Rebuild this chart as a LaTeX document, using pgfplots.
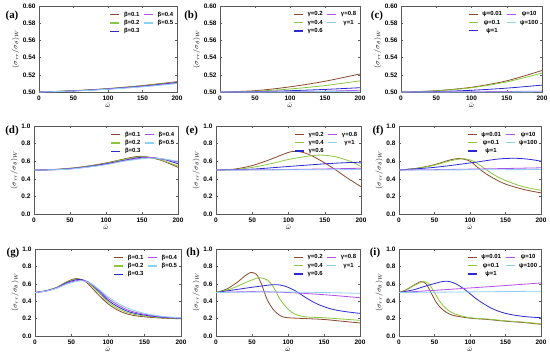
\documentclass[border=0pt]{standalone}
\usepackage{fontspec}
\setmainfont{Liberation Serif}
\setsansfont{Liberation Sans}
\usepackage{pgfplots}
\pgfplotsset{compat=1.18}
\definecolor{cA}{HTML}{8B4A2B}
\definecolor{cB}{HTML}{8CC63F}
\definecolor{cC}{HTML}{2B2BD0}
\definecolor{cD}{HTML}{B050E8}
\definecolor{cE}{HTML}{8ED0F2}
\pgfplotsset{
 pan/.style={scale only axis, anchor=south west, xmin=0, xmax=200, xtick={0,50,100,150,200},
   axis line style={gray!70!black, line width=0.5bp},
   tick style={gray!70!black, line width=0.4bp}, major tick length=2bp,
   tick align=inside,
   tick label style={font=\sffamily\bfseries\fontsize{6.5}{7}\selectfont},
   /pgf/number format/assume math mode=true,
   xlabel={$\bar{\omega}$}, ylabel={$(\sigma_{rr}/\sigma_{\theta})_W$},
   label style={font=\fontsize{7.5}{8}\selectfont},
   xlabel style={yshift=3bp}, ylabel style={yshift=-3bp},
   legend style={at={(0.995,0.97)}, anchor=north east, draw=none, fill=none,
     font=\sffamily\bfseries\fontsize{6}{7}\selectfont, row sep=-1.5bp, column sep=2bp, inner sep=1bp},
   legend columns=3, transpose legend,
   legend image code/.code={\draw[#1, line width=1.2bp] (0bp,0bp) -- (9bp,0bp);},
   every axis plot/.append style={line width=0.8bp, smooth, no marks},
   cycle list={{cA},{cB},{cC},{cD},{cE}},
 },
 top/.style={ymin=0.5,ymax=0.6, ytick={0.5,0.52,0.54,0.56,0.58,0.6},
   yticklabel style={/pgf/number format/.cd,fixed,fixed zerofill,precision=2}},
 bot/.style={ymin=0,ymax=1,ytick={0,0.2,0.4,0.6,0.8,1},
   yticklabel style={/pgf/number format/.cd,fixed,fixed zerofill,precision=1}},
}
\begin{document}
\begin{tikzpicture}
\useasboundingbox (0,0) rectangle (550bp,-359bp);
% (a)
\begin{axis}[pan, top, at={(39bp,-92bp)}, width=138bp, height=86bp]
\addplot coordinates {(0,0.5)(50,0.5015)(100,0.504)(150,0.5075)(200,0.512)};
\addplot coordinates {(0,0.5)(50,0.5014)(100,0.5038)(150,0.5072)(200,0.5115)};
\addplot coordinates {(0,0.5)(50,0.5013)(100,0.5036)(150,0.5068)(200,0.511)};
\addplot coordinates {(0,0.5)(50,0.5012)(100,0.5034)(150,0.5064)(200,0.5104)};
\addplot coordinates {(0,0.5)(50,0.5011)(100,0.5032)(150,0.506)(200,0.5098)};
\legend{β=0.1,β=0.2,β=0.3,β=0.4,β=0.5}
\end{axis}
% (b)
\begin{axis}[pan, top, at={(220bp,-92bp)}, width=140bp, height=86bp]
\addplot coordinates {(0,0.5)(50,0.5015)(100,0.506)(150,0.5125)(200,0.521)};
\addplot coordinates {(0,0.5)(50,0.501)(100,0.5035)(150,0.5075)(200,0.513)};
\addplot coordinates {(0,0.5)(50,0.5004)(100,0.5015)(150,0.503)(200,0.505)};
\addplot coordinates {(0,0.5)(50,0.5001)(100,0.5005)(150,0.501)(200,0.502)};
\addplot coordinates {(0,0.5)(50,0.5)(100,0.5002)(150,0.5005)(200,0.501)};
\legend{γ=0.2,γ=0.4,γ=0.6,γ=0.8,γ=1}
\end{axis}
% (c)
\begin{axis}[pan, top, at={(401bp,-92bp)}, width=141bp, height=86bp]
\addplot coordinates {(0,0.5)(50,0.5015)(100,0.5055)(150,0.513)(200,0.525)};
\addplot coordinates {(0,0.5)(50,0.5013)(100,0.505)(150,0.5118)(200,0.522)};
\addplot coordinates {(0,0.5)(50,0.5005)(100,0.502)(150,0.5045)(200,0.508)};
\addplot coordinates {(0,0.5)(50,0.5001)(100,0.5003)(150,0.5006)(200,0.501)};
\addplot coordinates {(0,0.5)(50,0.5)(100,0.5)(150,0.5001)(200,0.5002)};
\legend{ψ=0.01,ψ=0.1,ψ=1,ψ=10,ψ=100}
\end{axis}
% (d)
\begin{axis}[pan, bot, at={(34bp,-214bp)}, width=144bp, height=88bp]
\addplot coordinates {(0,0.5)(25,0.505)(50,0.52)(75,0.545)(100,0.58)(125,0.625)(140,0.65)(150,0.655)(165,0.635)(180,0.6)(200,0.53)};
\addplot coordinates {(0,0.5)(25,0.504)(50,0.518)(75,0.542)(100,0.575)(125,0.62)(150,0.652)(170,0.63)(185,0.59)(200,0.545)};
\addplot coordinates {(0,0.5)(25,0.503)(50,0.515)(75,0.538)(100,0.57)(125,0.61)(150,0.645)(170,0.635)(185,0.61)(200,0.57)};
\addplot coordinates {(0,0.5)(25,0.503)(50,0.513)(75,0.535)(100,0.565)(125,0.605)(155,0.64)(175,0.63)(200,0.59)};
\addplot coordinates {(0,0.5)(25,0.502)(50,0.51)(75,0.532)(100,0.56)(125,0.6)(160,0.635)(180,0.625)(200,0.6)};
\legend{β=0.1,β=0.2,β=0.3,β=0.4,β=0.5}
\end{axis}
% (e)
\begin{axis}[pan, bot, at={(216bp,-214bp)}, width=145bp, height=88bp]
\addplot coordinates {(0,0.5)(25,0.51)(50,0.55)(75,0.62)(90,0.67)(105,0.71)(120,0.7)(135,0.65)(158,0.54)(181,0.41)(200,0.31)};
\addplot coordinates {(0,0.5)(25,0.505)(50,0.53)(75,0.57)(100,0.62)(125,0.655)(145,0.67)(165,0.65)(185,0.6)(200,0.54)};
\addplot coordinates {(0,0.5)(50,0.51)(100,0.54)(150,0.57)(185,0.585)(200,0.58)};
\addplot coordinates {(0,0.5)(50,0.502)(100,0.506)(150,0.512)(200,0.52)};
\addplot coordinates {(0,0.5)(50,0.5)(100,0.502)(150,0.503)(200,0.505)};
\legend{γ=0.2,γ=0.4,γ=0.6,γ=0.8,γ=1}
\end{axis}
% (f)
\begin{axis}[pan, bot, at={(399bp,-214bp)}, width=142bp, height=88bp]
\addplot coordinates {(0,0.5)(25,0.52)(50,0.56)(70,0.61)(85,0.63)(100,0.6)(115,0.5)(130,0.42)(150,0.34)(175,0.28)(200,0.24)};
\addplot coordinates {(0,0.5)(25,0.518)(50,0.555)(70,0.6)(90,0.628)(105,0.6)(120,0.52)(135,0.44)(150,0.38)(175,0.31)(200,0.27)};
\addplot coordinates {(0,0.5)(50,0.53)(100,0.58)(140,0.625)(165,0.633)(185,0.62)(200,0.6)};
\addplot coordinates {(0,0.5)(50,0.504)(100,0.51)(150,0.517)(200,0.525)};
\addplot coordinates {(0,0.5)(50,0.501)(100,0.502)(150,0.504)(200,0.505)};
\legend{ψ=0.01,ψ=0.1,ψ=1,ψ=10,ψ=100}
\end{axis}
% (g)
\begin{axis}[pan, bot, at={(35bp,-336bp)}, width=146bp, height=87bp]
\addplot coordinates {(0,0.5)(15,0.52)(30,0.56)(45,0.63)(57,0.66)(70,0.62)(85,0.49)(100,0.37)(115,0.29)(130,0.245)(150,0.22)(175,0.205)(200,0.198)};
\addplot coordinates {(0,0.5)(15,0.52)(30,0.558)(45,0.625)(59,0.655)(72,0.62)(87,0.5)(100,0.39)(115,0.31)(130,0.26)(150,0.23)(175,0.21)(200,0.2)};
\addplot coordinates {(0,0.5)(15,0.518)(30,0.555)(45,0.618)(60,0.65)(73,0.62)(88,0.51)(100,0.41)(115,0.33)(130,0.275)(150,0.24)(175,0.215)(200,0.203)};
\addplot coordinates {(0,0.5)(15,0.517)(30,0.552)(45,0.61)(62,0.642)(74,0.615)(89,0.52)(100,0.43)(115,0.35)(130,0.29)(150,0.25)(175,0.22)(200,0.206)};
\addplot coordinates {(0,0.5)(15,0.515)(30,0.55)(45,0.6)(63,0.635)(75,0.61)(90,0.52)(100,0.45)(115,0.37)(130,0.31)(150,0.26)(175,0.225)(200,0.21)};
\legend{β=0.1,β=0.2,β=0.3,β=0.4,β=0.5}
\end{axis}
% (h)
\begin{axis}[pan, bot, at={(216bp,-336bp)}, width=144bp, height=87bp]
\addplot coordinates {(0,0.5)(15,0.54)(30,0.62)(40,0.69)(48,0.73)(56,0.71)(63,0.6)(71,0.42)(80,0.3)(90,0.23)(100,0.21)(125,0.2)(150,0.19)(175,0.17)(200,0.15)};
\addplot coordinates {(0,0.5)(20,0.54)(40,0.61)(55,0.66)(62,0.67)(72,0.64)(80,0.56)(89,0.42)(100,0.31)(110,0.25)(125,0.22)(150,0.21)(175,0.195)(200,0.18)};
\addplot coordinates {(0,0.5)(25,0.53)(50,0.56)(80,0.59)(95,0.575)(110,0.52)(125,0.44)(140,0.37)(160,0.31)(180,0.28)(200,0.26)};
\addplot coordinates {(0,0.5)(50,0.51)(100,0.5)(150,0.475)(200,0.44)};
\addplot coordinates {(0,0.5)(50,0.505)(100,0.505)(150,0.5)(200,0.49)};
\legend{γ=0.2,γ=0.4,γ=0.6,γ=0.8,γ=1}
\end{axis}
% (i)
\begin{axis}[pan, bot, at={(399bp,-336bp)}, width=142bp, height=87bp]
\addplot coordinates {(0,0.5)(10,0.53)(20,0.58)(31,0.625)(38,0.6)(45,0.5)(53,0.38)(62,0.3)(75,0.24)(100,0.205)(125,0.19)(150,0.17)(175,0.155)(200,0.135)};
\addplot coordinates {(0,0.5)(10,0.525)(20,0.575)(34,0.625)(42,0.6)(50,0.5)(58,0.39)(67,0.31)(80,0.25)(100,0.21)(125,0.195)(150,0.175)(175,0.16)(200,0.14)};
\addplot coordinates {(0,0.5)(20,0.53)(40,0.58)(65,0.63)(80,0.6)(95,0.52)(110,0.42)(130,0.32)(150,0.26)(175,0.225)(200,0.21)};
\addplot coordinates {(0,0.5)(50,0.525)(100,0.552)(150,0.58)(200,0.61)};
\addplot coordinates {(0,0.5)(100,0.507)(200,0.515)};
\legend{ψ=0.01,ψ=0.1,ψ=1,ψ=10,ψ=100}
\end{axis}
\begin{scope}[font=\rmfamily\bfseries\fontsize{11}{12}\selectfont]
\node at (12bp,-16bp) {(a)};
\node at (191bp,-16bp) {(b)};
\node at (377bp,-16bp) {(c)};
\node at (12bp,-131bp) {(d)};
\node at (192bp,-131bp) {(e)};
\node at (378bp,-131bp) {(f)};
\node at (13bp,-253bp) {(g)};
\node at (193bp,-253bp) {(h)};
\node at (375bp,-253bp) {(i)};
\end{scope}
\end{tikzpicture}
\end{document}
